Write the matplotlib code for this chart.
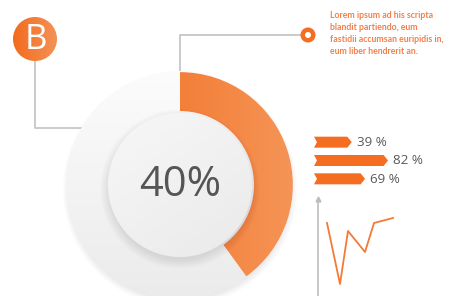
import matplotlib.pyplot as plt
import numpy as np
from matplotlib.colors import LinearSegmentedColormap
from matplotlib.patches import Circle

# data
share = [40, 60]
share_label = "40%"
badge = "B"
note = "Lorem ipsum ad his scripta\nblandit partiendo, eum\nfastidii accumsan euripidis in,\neum liber hendrerit an."
bar_values = [39, 82, 69]
bar_lengths = [51, 100, 69]  # drawn length, relative to the longest bar
line_x = [0.9, 2.2, 3.0, 4.7, 5.6, 7.5]
line_y = [7.7, 1.6, 6.9, 4.8, 7.7, 8.2]

ORANGE = "#f46d21"
TEXT_ORANGE = "#f4804a"
GREY_LINE = "#c6c6c6"
W, H = 453, 296


def frac(x0, y0, w, h):
    # pixel box (top-left origin) -> figure fraction
    return [x0 / W, (H - y0 - h) / H, w / W, h / H]


def gradient(ax, extent, c0, c1, clip, angle=0.0, z=1):
    n = 200
    xx, yy = np.meshgrid(np.linspace(0, 1, n), np.linspace(1, 0, n))
    g = xx * np.cos(angle) + yy * np.sin(angle)
    g = (g - g.min()) / (g.max() - g.min())
    cmap = LinearSegmentedColormap.from_list("g", [c0, c1])
    im = ax.imshow(g, cmap=cmap, extent=extent, origin="upper", zorder=z,
                   interpolation="bilinear", aspect="auto")
    im.set_clip_path(clip)
    return im


def shadow(ax, xy, r, dy, spread, alpha, z):
    for k in range(12):
        rr = r + spread * k / 11
        ax.add_patch(Circle((xy[0], xy[1] - dy), rr, color="black",
                            alpha=alpha / 12, lw=0, zorder=z, clip_on=False))


def main():
    fig = plt.figure(figsize=(W / 100, H / 100), dpi=100)
    fig.patch.set_facecolor("white")

    # background layer in pixel coordinates
    bg = fig.add_axes([0, 0, 1, 1])
    bg.set_xlim(0, W)
    bg.set_ylim(H, 0)
    bg.axis("off")

    # connectors
    bg.plot([35, 35, 84], [60, 128, 128], color=GREY_LINE, lw=1.3, zorder=1)
    bg.plot([180, 180, 301], [73, 35, 35], color=GREY_LINE, lw=1.3, zorder=1)
    bg.add_patch(Circle((308, 35), 7.5, color=ORANGE, lw=0, zorder=3))
    bg.add_patch(Circle((308, 35), 3.0, color="white", lw=0, zorder=4))

    # badge
    badge_circle = Circle((35, 39), 22, transform=bg.transData, lw=0,
                          facecolor="none")
    bg.add_patch(badge_circle)
    gradient(bg, [13, 57, 61, 17], "#f26b1d", "#f59256", badge_circle, z=2)
    bg.text(35.5, 40, badge, color="white", fontsize=25, family="Open Sans",
            ha="center", va="center", zorder=3)
    bg.set_xlim(0, W)
    bg.set_ylim(H, 0)

    bg.text(330, 11.5, note, color=TEXT_ORANGE, fontsize=6.3, family="Lato",
            fontweight="bold", va="top", ha="left", linespacing=1.42)

    # donut
    R = 114.0
    dax = fig.add_axes(frac(180 - R, 185 - R, 2 * R, 2 * R))
    dax.set_xlim(-1, 1)
    dax.set_ylim(-1, 1)
    dax.axis("off")

    shadow(dax, (0, 0), 0.96, 0.04, 0.07, 0.09, 1)
    outer = Circle((0, 0), 1.0, facecolor="none", lw=0)
    dax.add_patch(outer)
    gradient(dax, [-1, 1, -1, 1], "#ebebeb", "#fcfcfc", outer,
             angle=np.pi / 2, z=2)

    wedges, _ = dax.pie(share, radius=0.99, startangle=90, counterclock=False,
                        colors=[ORANGE, "none"],
                        wedgeprops=dict(width=0.99 - 74 / R, lw=0))
    for w in wedges:
        w.set_zorder(3)
    wedges[0].set_facecolor("none")
    gradient(dax, [-1, 1, -1, 1], "#f26a1b", "#f59456", wedges[0], z=3)

    shadow(dax, (0, 0), 0.62, 0.035, 0.08, 0.10, 4)
    inner = Circle((0, 0), 72 / R, facecolor="none", lw=0)
    dax.add_patch(inner)
    gradient(dax, [-1, 1, -1, 1], "#e6e6e6", "#fbfbfb", inner,
             angle=np.pi / 2 + 0.6, z=5)
    dax.text(0, 0, share_label, color="#555555", fontsize=30,
             family="Open Sans", ha="center", va="center", zorder=6)
    dax.set_xlim(-1, 1)
    dax.set_ylim(-1, 1)

    # arrow bars
    bax = fig.add_axes(frac(314, 133, 74, 55))
    bax.set_xlim(0, 100)
    bax.set_ylim(len(bar_values) - 0.5, -0.5)
    bax.axis("off")
    h, tip, notch = 0.3, 6.0, 4.0
    for i, (v, L) in enumerate(zip(bar_values, bar_lengths)):
        xs = [0, L - tip, L, L - tip, 0, notch]
        ys = [i - h, i - h, i, i + h, i + h, i]
        bax.fill(xs, ys, color=ORANGE, lw=0, clip_on=False)
        bax.text(L + 7, i + 0.02, f"{v} %", color="#595959", fontsize=9.6,
                 family="Open Sans", va="center", ha="left", clip_on=False)

    # small line chart
    lax = fig.add_axes(frac(318, 199, 92, 101))
    lax.set_xlim(0, 9.2)
    lax.set_ylim(0, 10.1)
    lax.plot(line_x, line_y, color="#f47a35", lw=1.3, clip_on=False)
    for side in ["top", "right", "bottom"]:
        lax.spines[side].set_visible(False)
    lax.spines["left"].set_color("#bdbdbd")
    lax.spines["left"].set_linewidth(1.2)
    lax.plot(0, 1, "^", color="#bdbdbd", ms=3.5, transform=lax.transAxes,
             clip_on=False)
    lax.set_xticks([])
    lax.set_yticks([])
    lax.patch.set_alpha(0)

    fig.savefig("out.png", dpi=100)


if __name__ == "__main__":
    main()
